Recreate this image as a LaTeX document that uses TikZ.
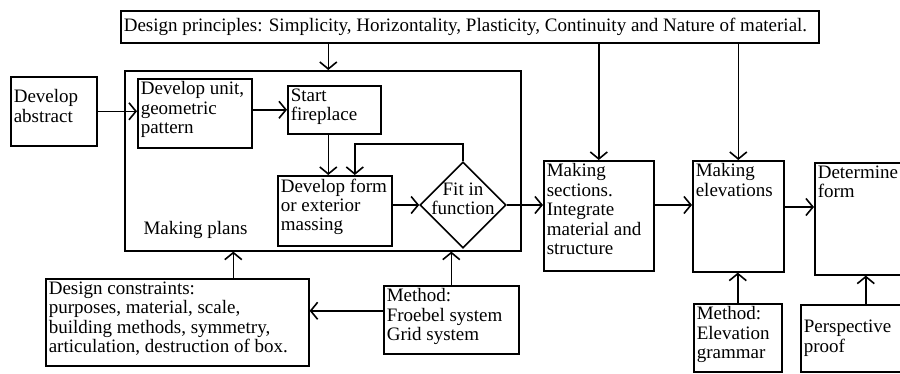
\documentclass[tikz,border=0pt]{standalone}
\usepackage{fontspec}
\setmainfont{Liberation Serif}
\usetikzlibrary{arrows.meta,shapes.geometric}
\newcommand{\bt}[4][t]{\parbox[c][#3][#1]{#2}{\raggedright #4}}
\tikzset{
  blk/.style={draw, line width=1.6pt, inner sep=3pt, anchor=north west},
  arr/.style={line width=1.6pt, -{Straight Barb[length=7pt,width=17pt]}},
  every node/.style={font=\fontsize{19}{19.4}\selectfont}
}
\begin{document}
\begin{tikzpicture}[x=1pt,y=-1pt]
\useasboundingbox (0,0) rectangle (900,373);
\clip (0,0) rectangle (900,373);
% making plans
\node[blk, minimum width=396pt, minimum height=180pt, inner sep=0pt] (plans) at (124,70) {};
\node[anchor=west] (plansl) at (140,230) {Making plans};
\node[blk] (abs) at (10,76) {\bt{80pt}{63pt}{\vspace*{10pt}Develop\\abstract}};
\node[blk] (unit) at (137,78) {\bt{108pt}{63pt}{Develop unit,\\geometric\\pattern}};
\node[blk] (fire) at (287,85) {\bt{87pt}{42pt}{Start\\fireplace}};
\node[blk] (form) at (277,175) {\bt{108pt}{64pt}{Develop form\\or exterior\\massing}};
\node[draw, diamond, line width=1.6pt, minimum width=86pt, minimum height=86pt, inner sep=0pt] (fit) at (463,205) {};
\node[align=center] (fitl) at ([yshift=6pt]fit.center) {Fit in\\function};
% top and right
\node[blk] (pr) at (120,10) {\bt[c]{692pt}{26pt}{Design principles: Simplicity, Horizontality, Plasticity, Continuity and Nature of material.}};
\node[blk] (sect) at (543,160) {\bt{104pt}{104pt}{Making\\sections.\\Integrate\\material and\\structure}};
\node[blk] (elev) at (692,160) {\bt{85pt}{105pt}{Making\\elevations}};
\node[blk] (det) at (814,162) {\bt{96pt}{106pt}{Determine\\form}};
% bottom
\node[blk] (cons) at (45,278) {\bt{257pt}{81pt}{Design constraints:\\purposes, material, scale,\\building methods, symmetry,\\articulation, destruction of box.}};
\node[blk] (meth) at (383,285) {\bt{129pt}{62pt}{Method:\\Froebel system\\Grid system}};
\node[blk] (gram) at (693,303) {\bt{82pt}{62pt}{Method:\\Elevation\\grammar}};
\node[blk] (persp) at (800,304) {\bt[c]{124pt}{61pt}{Perspective\\proof}};
% arrows
\draw[arr] (abs.east) -- (abs.east -| unit.west);
\draw[arr] (unit.east |- fire.west) -- (fire.west);
\draw[arr] ([xshift=-6pt]fire.south) -- ([xshift=-6pt]fire.south |- form.north);
\draw[arr] (fit.north) -- ++(0,-17) -| ([xshift=20pt]form.north);
\draw[arr] (form.east |- fit.west) -- (fit.west);
\draw[arr] (fit.east) -- (fit.east -| sect.west);
\draw[arr] (sect.east |- fit.east) -- (elev.west |- fit.east);
\draw[arr] ([yshift=-2pt]elev.east |- fit.east) -- ([yshift=-2pt]det.west |- fit.east);
\draw[arr] ([xshift=-6pt]fire.north |- pr.south) -- ([xshift=-6pt]fire.north |- plans.north);
\draw[arr] (pr.south -| sect.north) -- (sect.north);
\draw[arr] (pr.south -| elev.north) -- (elev.north);
\draw[arr] (gram.north) -- (gram.north |- elev.south);
\draw[arr] (persp.north) -- (persp.north |- det.south);
\draw[arr] (meth.north) -- (meth.north |- plans.south);
\draw[arr] ([yshift=9pt]meth.west) -- ([yshift=9pt]meth.west -| cons.east);
\draw[arr] ([xshift=56pt]cons.north) -- ([xshift=56pt]cons.north |- plans.south);
\end{tikzpicture}
\end{document}
